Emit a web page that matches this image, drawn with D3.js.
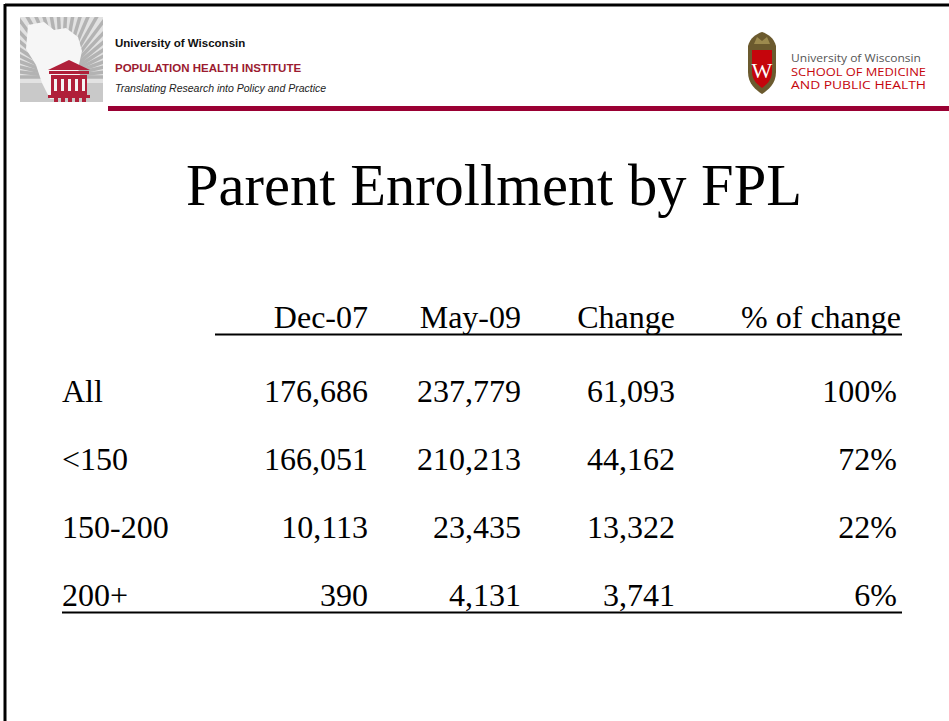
<!DOCTYPE html>
<html lang="en">
<head>
<meta charset="UTF-8">
<title>Parent Enrollment by FPL</title>
<style>
  body { margin: 0; background: #fff; }
  svg { display: block; }
</style>
</head>
<body>
<svg id="slide" width="949" height="721"></svg>
<script src="https://d3js.org/d3.v7.min.js"></script>
<script>
// table data
const rowLabels = ["All", "<150", "150-200", "200+"];
const columns = ["Dec-07", "May-09", "Change", "% of change"];
const dec07 = [176686, 166051, 10113, 390];
const may09 = [237779, 210213, 23435, 4131];
const change = [61093, 44162, 13322, 3741];
const pctChange = [100, 72, 22, 6];

const title = "Parent Enrollment by FPL";
const maroon = "#9a0033";
const serif = "'Liberation Serif', 'Times New Roman', serif";
const sans = "'Liberation Sans', Arial, sans-serif";

const svg = d3.select("#slide");

// header bar
svg.append("rect").attr("x", 108).attr("y", 106).attr("width", 841).attr("height", 5)
  .attr("fill", maroon);

// left logo: grey rays, white state, red capitol building
svg.append("defs").append("clipPath").attr("id", "logoClip")
  .append("rect").attr("width", 83).attr("height", 85);
const logo = svg.append("g").attr("transform", "translate(20,17)")
  .attr("clip-path", "url(#logoClip)");
logo.append("rect").attr("width", 83).attr("height", 85).attr("fill", "#e2e2e2");
const rays = d3.range(0, 28);
logo.selectAll("line.ray").data(rays).join("line")
  .attr("class", "ray")
  .attr("x1", 42).attr("y1", 60)
  .attr("x2", d => 42 + 80 * Math.cos(Math.PI + d * Math.PI / 27))
  .attr("y2", d => 60 + 80 * Math.sin(Math.PI + d * Math.PI / 27))
  .attr("stroke", "#b3b3b3").attr("stroke-width", 3.5);
logo.append("rect").attr("x", 0).attr("y", 66).attr("width", 83).attr("height", 20).attr("fill", "#c9c9c9");
logo.append("path")
  .attr("d", "M8,8 L24,5 L34,13 L46,11 L58,20 L62,34 L58,52 L64,70 L54,80 L30,82 L22,66 L16,48 L6,32 Z")
  .attr("fill", "#f6f6f6");
const bld = logo.append("g").attr("transform", "translate(28,43)").attr("fill", "#b0203a");
bld.append("path").attr("d", "M0,10 L21,0 L42,10 Z");
bld.append("rect").attr("x", 1).attr("y", 11).attr("width", 40).attr("height", 3);
bld.append("rect").attr("x", 3).attr("y", 15).attr("width", 36).attr("height", 20);
bld.append("rect").attr("x", 0).attr("y", 35).attr("width", 42).attr("height", 3);
bld.selectAll("rect.col").data(d3.range(5)).join("rect").attr("class", "col")
  .attr("x", d => 6 + d * 7).attr("y", 38).attr("width", 4).attr("height", 4);
bld.selectAll("rect.win").data(d3.range(5)).join("rect").attr("class", "win")
  .attr("x", d => 6 + d * 7).attr("y", 19).attr("width", 3).attr("height", 12).attr("fill", "#f4f4f4");

// slide frame (top and left edges only)
svg.append("line").attr("x1", 5).attr("x2", 949).attr("y1", 5).attr("y2", 5)
  .attr("stroke", "#000").attr("stroke-width", 3);
svg.append("line").attr("x1", 5).attr("x2", 5).attr("y1", 4).attr("y2", 721)
  .attr("stroke", "#000").attr("stroke-width", 3);

// left logo text
svg.append("text").attr("x", 115).attr("y", 47).text("University of Wisconsin")
  .attr("font-family", sans).attr("font-weight", "bold").attr("font-size", 11.5).attr("fill", "#111");
svg.append("text").attr("x", 115).attr("y", 72).text("POPULATION HEALTH INSTITUTE")
  .attr("font-family", sans).attr("font-weight", "bold").attr("font-size", 11.5).attr("fill", "#9b1b30");
svg.append("text").attr("x", 115).attr("y", 92).text("Translating Research into Policy and Practice")
  .attr("font-family", sans).attr("font-style", "italic").attr("font-size", 10.5).attr("fill", "#222");

// right logo: crest
const crest = svg.append("g").attr("transform", "translate(748,32)");
crest.append("path")
  .attr("d", "M14,0 C20,2 26,6 28,14 L28,40 C28,52 20,58 14,62 C8,58 0,52 0,40 L0,14 C2,6 8,2 14,0 Z")
  .attr("fill", "#6b5a2e");
crest.append("path")
  .attr("d", "M4,18 L24,18 L24,40 C24,48 18,53 14,56 C10,53 4,48 4,40 Z")
  .attr("fill", "#c5050c");
crest.append("text").attr("x", 14).attr("y", 46).attr("text-anchor", "middle")
  .attr("font-family", serif).attr("font-size", 22).attr("fill", "#fff").text("W");
crest.append("path").attr("d", "M6,12 L9,5 L14,9 L19,5 L22,12 Z").attr("fill", "#9c8a4e");

const rText = [
  { t: "University of Wisconsin", c: "#555", s: 11, y: 62, w: 130 },
  { t: "SCHOOL OF MEDICINE", c: "#c5050c", s: 11.5, y: 75.5, w: 135 },
  { t: "AND PUBLIC HEALTH", c: "#c5050c", s: 11.5, y: 89, w: 135 }
];
svg.selectAll("text.rlogo").data(rText).join("text").attr("class", "rlogo")
  .attr("x", 791).attr("y", d => d.y).text(d => d.t)
  .attr("font-family", "'Open Sans', sans-serif").attr("font-size", d => d.s)
  .attr("fill", d => d.c).attr("textLength", d => d.w)
  .attr("lengthAdjust", "spacingAndGlyphs");

// title
svg.append("text").attr("x", 494).attr("y", 205).attr("text-anchor", "middle")
  .attr("font-family", serif).attr("font-size", 58.5).attr("fill", "#000").text(title);

// table layout via scales
const y = d3.scalePoint().domain(rowLabels).range([402, 606]);
const headerY = 328;
const colX = d3.scaleOrdinal().domain(columns).range([368, 521, 675, 897]);
const headX = d3.scaleOrdinal().domain(columns).range([368, 521, 675, 901]);
const fmt = d3.format(",");

const tbl = svg.append("g").attr("font-family", serif).attr("font-size", 32).attr("fill", "#000");

tbl.selectAll("text.head").data(columns).join("text").attr("class", "head")
  .attr("x", d => headX(d)).attr("y", headerY).attr("text-anchor", "end").text(d => d);

tbl.append("line").attr("x1", 215).attr("x2", 902).attr("y1", headerY + 6.5).attr("y2", headerY + 6.5)
  .attr("stroke", "#000").attr("stroke-width", 2);

tbl.selectAll("text.label").data(rowLabels).join("text").attr("class", "label")
  .attr("x", 62).attr("y", d => y(d)).text(d => d);

const cells = [];
rowLabels.forEach((r, i) => {
  cells.push({ r, c: columns[0], v: fmt(dec07[i]) });
  cells.push({ r, c: columns[1], v: fmt(may09[i]) });
  cells.push({ r, c: columns[2], v: fmt(change[i]) });
  cells.push({ r, c: columns[3], v: pctChange[i] + "%" });
});
tbl.selectAll("text.cell").data(cells).join("text").attr("class", "cell")
  .attr("x", d => colX(d.c)).attr("y", d => y(d.r)).attr("text-anchor", "end").text(d => d.v);

const lastY = y(rowLabels[rowLabels.length - 1]) + 6.5;
tbl.append("line").attr("x1", 62).attr("x2", 902).attr("y1", lastY).attr("y2", lastY)
  .attr("stroke", "#000").attr("stroke-width", 2);
</script>
</body>
</html>
